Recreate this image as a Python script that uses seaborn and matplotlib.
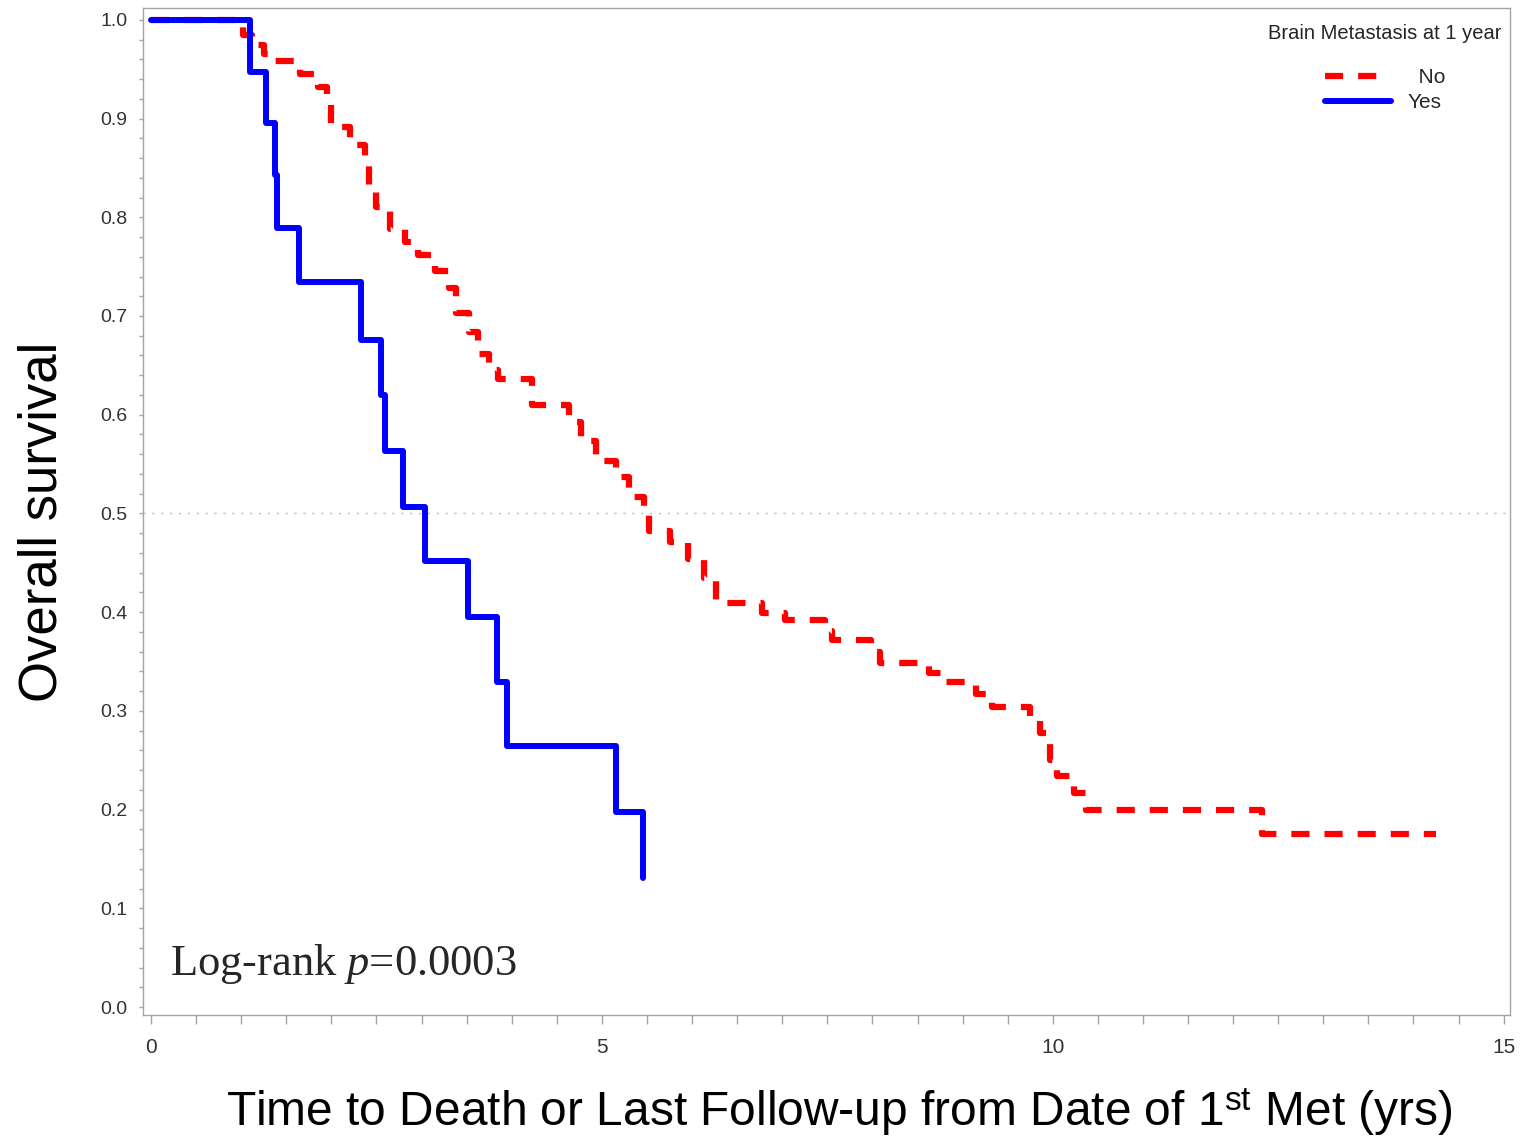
import pandas as pd
import matplotlib
matplotlib.use("Agg")
import matplotlib.pyplot as plt
from matplotlib.ticker import MultipleLocator, FormatStrFormatter
import seaborn as sns

sns.set_style("ticks")
plt.rcParams["font.family"] = ["Liberation Sans", "DejaVu Sans"]
plt.rcParams["mathtext.fontset"] = "custom"
plt.rcParams["mathtext.rm"] = "Liberation Serif"
plt.rcParams["mathtext.it"] = "Liberation Serif:italic"
plt.rcParams["mathtext.sf"] = "Liberation Sans"

# Kaplan-Meier steps (time in years, survival)
no_time = [0, 1.02, 1.12, 1.25, 1.37, 1.65, 1.85, 1.95, 2.00, 2.21,
           2.37, 2.42, 2.50, 2.65, 2.82, 2.96, 3.15, 3.30, 3.38, 3.53,
           3.63, 3.75, 3.85, 4.23, 4.64, 4.77, 4.93, 5.16, 5.30, 5.47,
           5.52, 5.75, 5.96, 6.13, 6.27, 6.77, 7.03, 7.47, 7.55, 7.98,
           8.08, 8.63, 8.80, 9.15, 9.33, 9.75, 9.86, 9.97, 10.05, 10.24,
           10.37, 12.32, 14.25]
no_surv = [1.0, 0.985, 0.975, 0.965, 0.958, 0.945, 0.932, 0.915, 0.891, 0.873,
           0.857, 0.833, 0.810, 0.788, 0.775, 0.762, 0.746, 0.728, 0.703, 0.684,
           0.662, 0.645, 0.636, 0.610, 0.593, 0.573, 0.553, 0.537, 0.517, 0.498,
           0.482, 0.471, 0.454, 0.435, 0.409, 0.399, 0.392, 0.381, 0.372, 0.360,
           0.349, 0.338, 0.329, 0.317, 0.304, 0.291, 0.278, 0.250, 0.234, 0.217,
           0.200, 0.175, 0.175]

yes_time = [0, 1.10, 1.28, 1.38, 1.40, 1.64, 2.33, 2.55, 2.60, 2.79,
            3.04, 3.51, 3.84, 3.95, 5.16, 5.46]
yes_surv = [1.0, 0.947, 0.895, 0.843, 0.789, 0.734, 0.676, 0.620, 0.563, 0.507,
            0.452, 0.395, 0.329, 0.264, 0.198, 0.131]

groups = ["No", "Yes"]
group_labels = ["\u2002No", "Yes"]
legend_title = "Brain Metastasis at 1 year"
x_ticks = [0, 5, 10, 15]
x_label = "Time to Death or Last Follow-up from Date of 1$^{\\mathsf{st}}$ Met (yrs)"
y_label = "Overall survival"
pvalue_text = "Log-rank $p$=0.0003"

df_no = pd.DataFrame({"time": no_time, "surv": no_surv})
df_yes = pd.DataFrame({"time": yes_time, "surv": yes_surv})

fig = plt.figure(figsize=(15.28, 11.39), dpi=100)
ax = fig.add_axes([0.0936, 0.1089, 0.8946, 0.8841])

ax.axhline(0.5, color="#b8b8b8", lw=1.0, linestyle=(0, (1.4, 5)), zorder=1)

sns.lineplot(data=df_no, x="time", y="surv", ax=ax, estimator=None, sort=False,
             drawstyle="steps-post", color="#ff0000", lw=4.5,
             linestyle=(0, (2.9, 2.4)), label=group_labels[0], zorder=3)
sns.lineplot(data=df_yes, x="time", y="surv", ax=ax, estimator=None, sort=False,
             drawstyle="steps-post", color="#0000ff", lw=4.3,
             solid_capstyle="round", label=group_labels[1], zorder=4)

ax.set_xlim(-0.089, 15.07)
ax.set_ylim(-0.008, 1.012)
ax.set_xticks(x_ticks)
ax.xaxis.set_minor_locator(MultipleLocator(0.5))
ax.yaxis.set_major_locator(MultipleLocator(0.1))
ax.yaxis.set_minor_locator(MultipleLocator(0.02))
ax.yaxis.set_major_formatter(FormatStrFormatter("%.1f"))

for s in ax.spines.values():
    s.set_color("#a4a4a4")
    s.set_linewidth(1.0)

ax.tick_params(axis="x", which="both", direction="out", length=6.5, width=1,
               color="#a4a4a4", labelsize=15, labelcolor="#333333", pad=10)
ax.tick_params(axis="y", which="both", direction="out", length=3, width=1,
               color="#a4a4a4", labelsize=14, labelcolor="#333333", pad=8)

ax.set_xlabel(x_label, fontsize=34.5, color="black")
ax.xaxis.label.set_va("baseline")
ax.xaxis.set_label_coords(0.509, -0.110)
ax.set_ylabel(y_label, fontsize=38, color="black")
ax.yaxis.label.set_va("center")
ax.yaxis.set_label_coords(-0.0739, 0.4896)

ax.text(0.0198, 0.0397, pvalue_text, transform=ax.transAxes, fontsize=32,
        family=["Liberation Serif", "DejaVu Serif"], va="baseline", ha="left")

leg = ax.legend(title=legend_title, loc="upper right", bbox_to_anchor=(0.994, 0.984),
                frameon=False, fontsize=15, title_fontsize=14.5, borderpad=0,
                borderaxespad=0, handlelength=3.2, handletextpad=0.8,
                labelspacing=0.3)
leg._legend_box.sep = 18

fig.savefig("out.png", dpi=100)
